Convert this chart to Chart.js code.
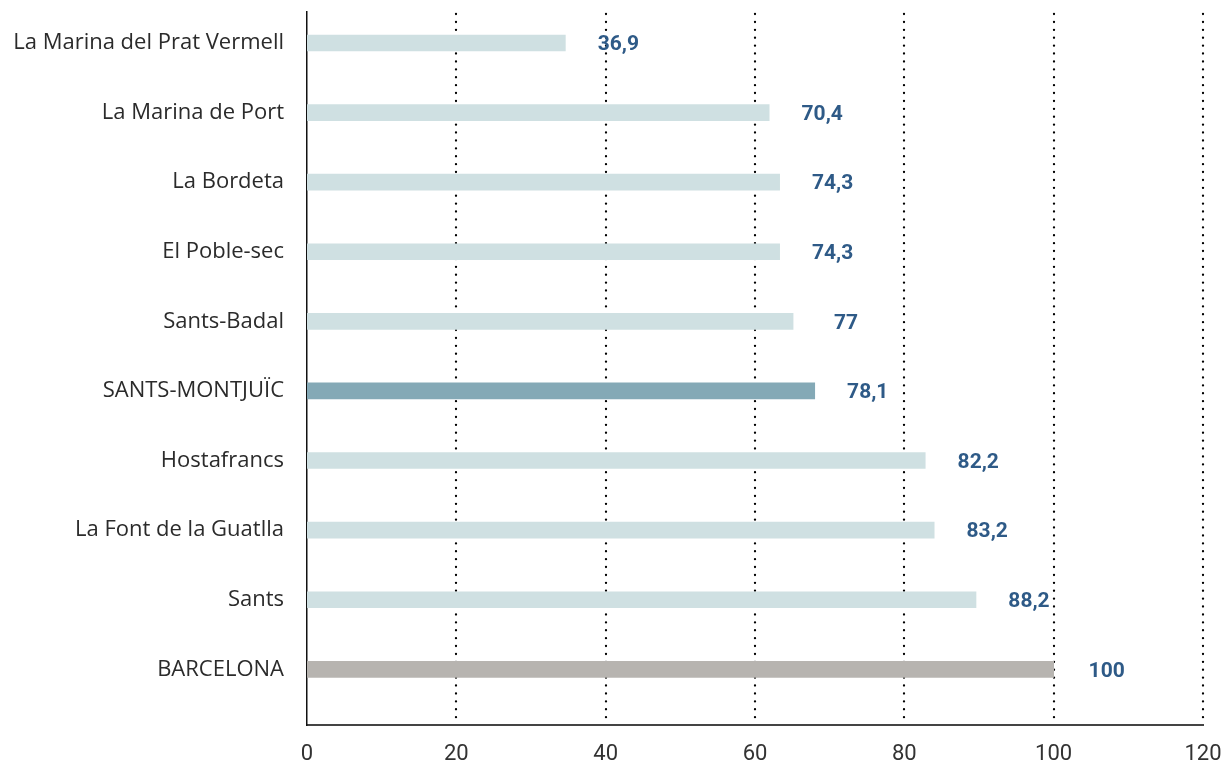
<!DOCTYPE html>
<html>
<head>
<meta charset="utf-8">
<script src="https://cdn.jsdelivr.net/npm/chart.js@4"></script>
<style>
  html, body { margin: 0; padding: 0; background: #ffffff; }
  #wrap { width: 1226px; height: 766px; position: relative; }
</style>
</head>
<body>
<div id="wrap"><canvas id="c"></canvas></div>
<script>
const categories = [
  "La Marina del Prat Vermell",
  "La Marina de Port",
  "La Bordeta",
  "El Poble-sec",
  "Sants-Badal",
  "SANTS-MONTJUÏC",
  "Hostafrancs",
  "La Font de la Guatlla",
  "Sants",
  "BARCELONA"
];
// bar lengths as drawn in the reference
const barValues = [34.6, 61.9, 63.3, 63.3, 65.1, 68.0, 82.8, 84.0, 89.6, 100];
// printed value labels
const valueLabels = ["36,9", "70,4", "74,3", "74,3", "77", "78,1", "82,2", "83,2", "88,2", "100"];
const xTicks = [0, 20, 40, 60, 80, 100, 120];

const barColors = categories.map(c =>
  c === "BARCELONA" ? "#b7b4b0" : (c === "SANTS-MONTJUÏC" ? "#84a9b6" : "#cfe0e2"));

const valueLabelPlugin = {
  id: 'valueLabels',
  afterDatasetsDraw(chart) {
    const ctx = chart.ctx;
    const meta = chart.getDatasetMeta(0);
    ctx.save();
    ctx.font = "bold 21px Roboto";
    ctx.fillStyle = "#2e5a87";
    ctx.textAlign = "center";
    ctx.textBaseline = "middle";
    meta.data.forEach((bar, i) => {
      ctx.fillText(valueLabels[i], bar.x + 53, bar.y + 2);
    });
    ctx.restore();
  }
};

const dottedGridPlugin = {
  id: 'dottedGrid',
  beforeDatasetsDraw(chart) {
    const { ctx, chartArea, scales } = chart;
    ctx.save();
    ctx.strokeStyle = '#000000';
    ctx.lineWidth = 2.3;
    ctx.lineCap = 'round';
    ctx.setLineDash([0.1, 7.8]);
    scales.x.ticks.forEach(t => {
      if (t.value === 0) return;
      const px = Math.round(scales.x.getPixelForValue(t.value));
      ctx.beginPath();
      ctx.moveTo(px, chartArea.top + 2);
      ctx.lineTo(px, chartArea.bottom);
      ctx.stroke();
    });
    ctx.restore();
  }
};

new Chart(document.getElementById('c'), {
  type: 'bar',
  data: {
    datasets: [{
      data: barValues.map((v, i) => ({ x: v, y: i })),
      backgroundColor: barColors,
      borderWidth: 0,
      barThickness: 16
    }]
  },
  options: {
    indexAxis: 'y',
    responsive: true,
    maintainAspectRatio: false,
    animation: false,
    layout: { padding: { top: 12, right: 23, left: 0, bottom: 0 } },
    plugins: { legend: { display: false }, tooltip: { enabled: false } },
    scales: {
      x: {
        type: 'linear',
        min: 0,
        max: 120,
        afterBuildTicks(scale) { scale.ticks = xTicks.map(v => ({ value: v })); },
        afterFit(scale) {
          scale.height = 41;
          scale.paddingLeft = 0;
          scale.paddingRight = 0;
        },
        grid: { display: false, drawTicks: false },
        border: { display: true, color: '#444444', width: 2 },
        ticks: {
          color: '#333333',
          font: { family: 'Roboto', size: 22 },
          padding: 16
        }
      },
      y: {
        type: 'linear',
        reverse: true,
        offset: false,
        bounds: 'data',
        grace: 0,
        min: -0.445,
        max: 9.8,
        afterBuildTicks(scale) { scale.ticks = categories.map((c, i) => ({ value: i })); },
        afterFit(scale) {
          scale.width = 307;
          scale.paddingTop = 0;
          scale.paddingBottom = 0;
        },
        grid: { display: false, drawTicks: false, offset: false },
        border: { display: true, color: '#111111', width: 1.5 },
        ticks: {
          color: '#2b2b2b',
          font: { family: 'Open Sans', size: 22 },
          padding: 23,
          callback: (v) => categories[v] !== undefined ? categories[v] : ''
        }
      }
    }
  },
  plugins: [dottedGridPlugin, valueLabelPlugin]
});
</script>
</body>
</html>
